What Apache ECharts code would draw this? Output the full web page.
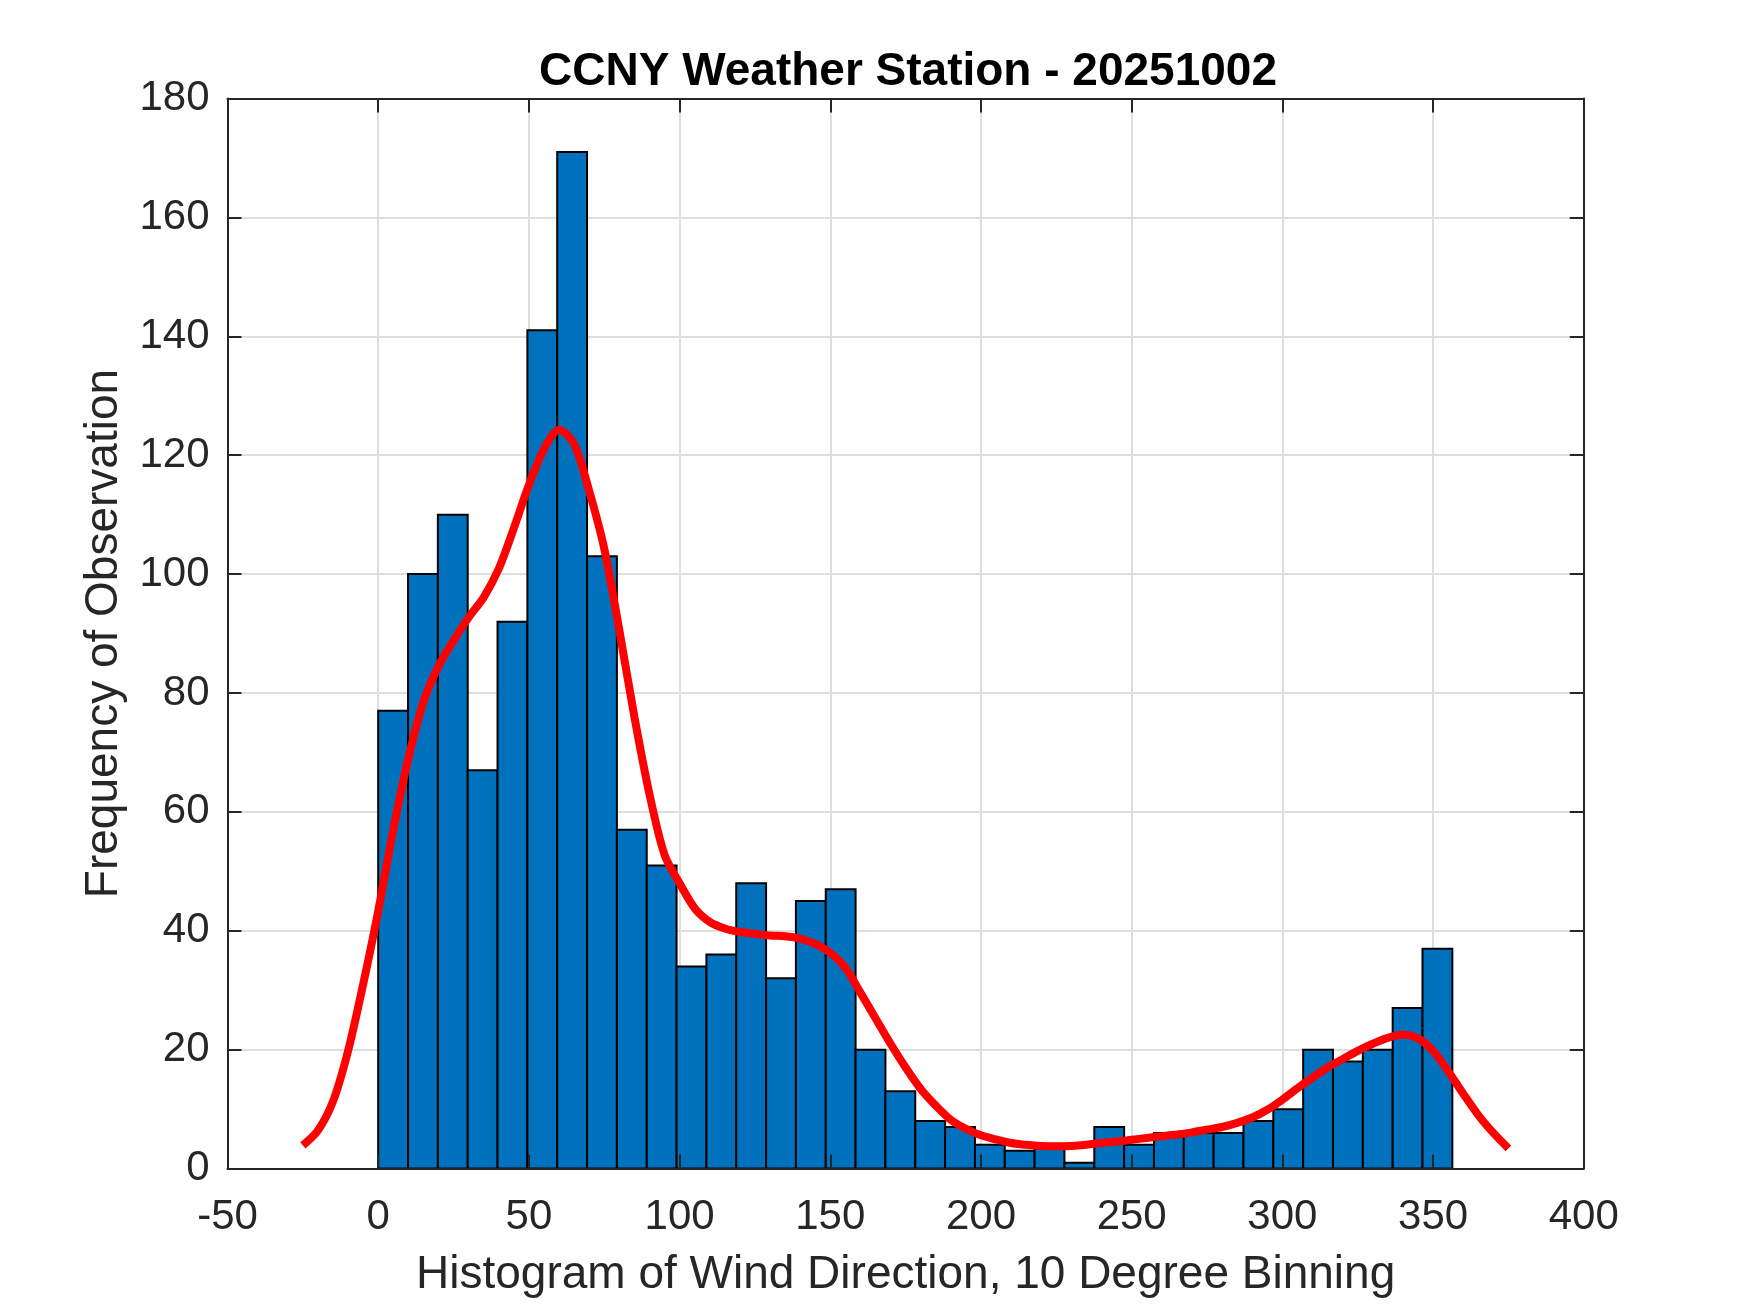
<!DOCTYPE html>
<html>
<head>
<meta charset="utf-8">
<title>CCNY Weather Station - 20251002</title>
<script src="https://cdn.jsdelivr.net/npm/echarts@6/dist/echarts.min.js"></script>
<style>
  html, body { margin: 0; padding: 0; background: #fff; }
  #main { width: 1750px; height: 1313px; }
</style>
</head>
<body>
<div id="main"></div>
<script>
// histogram: 36 bins from 0 up to the max observed direction (~356.5 deg)
var binWidth = 9.9;
var counts = [77, 100, 110, 67, 92, 141, 171, 103, 57, 51, 34, 36, 48, 32, 45, 47, 20, 13,
              8, 7, 4, 3, 4, 1, 7, 4, 6, 6, 6, 8, 10, 20, 18, 20, 27, 37];
var binStarts = counts.map(function (c, i) { return i * binWidth; });

// smoothed density curve (scaled to counts)
var curveX = [-25, -20, -15, -10, -5, 0, 5, 10, 15, 20, 25, 30, 35, 40, 45, 50, 55, 60, 65, 70,
              75, 80, 85, 90, 95, 100, 105, 110, 115, 120, 125, 130, 135, 140, 145, 150, 155, 160,
              165, 170, 175, 180, 185, 190, 195, 200, 205, 210, 215, 220, 225, 230, 235, 240, 245,
              250, 255, 260, 265, 270, 275, 280, 285, 290, 295, 300, 305, 310, 315, 320, 325, 330,
              335, 340, 345, 350, 355, 360, 365, 370, 375];
var curveY = [3.9, 6.4, 11.3, 19.8, 31.0, 43.3, 57.0, 69.0, 78.5, 84.5, 88.8, 92.7, 96.1, 100.9, 107.7,
              115.0, 121.0, 124.3, 121.9, 114.0, 104.3, 90.6, 76.0, 63.0, 52.8, 48.0, 43.8, 41.5, 40.4,
              39.8, 39.5, 39.2, 39.1, 38.7, 37.8, 36.3, 33.8, 29.6, 25.3, 21.0, 17.0, 13.4, 10.6, 8.2,
              6.7, 5.6, 4.9, 4.3, 4.0, 3.8, 3.75, 3.8, 4.0, 4.3, 4.55, 4.85, 5.15, 5.45, 5.75, 6.1,
              6.55, 7.0, 7.7, 8.6, 9.9, 11.6, 13.5, 15.3, 17.0, 18.4, 19.8, 21.0, 22.0, 22.5, 21.9,
              19.8, 16.4, 12.6, 9.0, 6.0, 3.4];

var xTicks = { min: -50, max: 400, interval: 50 };
var yTicks = { min: 0, max: 180, interval: 20 };

var FONT = 'Arial, "Liberation Sans", Helvetica, sans-serif';
var AX = '#262626';

var myChart = echarts.init(document.getElementById('main'));

function frameAxis(pos, withLabels, base) {
  return Object.assign({
    type: 'value',
    position: pos,
    z: 10,
    axisLine: { show: true, onZero: false, lineStyle: { color: AX, width: 2 } },
    axisTick: { show: true, inside: true, length: 14, lineStyle: { color: AX, width: 2 } },
    axisLabel: withLabels ? { show: true, color: AX, fontSize: 42, fontFamily: FONT } : { show: false },
    splitLine: { show: false }
  }, base);
}

function gridAxis(pos, base) {
  return Object.assign({
    type: 'value',
    position: pos,
    z: 0,
    axisLine: { show: false },
    axisTick: { show: false },
    axisLabel: { show: false },
    splitLine: { show: true, lineStyle: { color: '#dedede', width: 2 } }
  }, base);
}

var option = {
  animation: false,
  backgroundColor: '#fff',
  title: {
    text: 'CCNY Weather Station - 20251002',
    left: 903,
    textAlign: 'center',
    top: 44,
    textStyle: { fontSize: 46, fontWeight: 'bold', color: '#000', fontFamily: FONT }
  },
  grid: { left: 227.5, right: 166.25, top: 98.5, bottom: 144.4, containLabel: false },
  xAxis: [
    frameAxis('bottom', true, Object.assign({
      name: 'Histogram of Wind Direction, 10 Degree Binning',
      nameLocation: 'middle',
      nameGap: 84,
      nameTextStyle: { fontSize: 46, color: AX, fontFamily: FONT }
    }, xTicks, { axisLabel: { show: true, color: AX, fontSize: 42, fontFamily: FONT, margin: 28 } })),
    frameAxis('top', false, Object.assign({}, xTicks)),
    gridAxis('bottom', Object.assign({}, xTicks))
  ],
  yAxis: [
    frameAxis('left', true, Object.assign({
      name: 'Frequency of Observation',
      nameLocation: 'middle',
      nameGap: 100,
      nameTextStyle: { fontSize: 46, color: AX, fontFamily: FONT }
    }, yTicks, { axisLabel: { show: true, color: AX, fontSize: 42, fontFamily: FONT, margin: 18 } })),
    frameAxis('right', false, Object.assign({}, yTicks)),
    gridAxis('left', Object.assign({}, yTicks))
  ],
  series: [
    {
      type: 'custom',
      name: 'Wind Direction',
      xAxisIndex: 0,
      yAxisIndex: 0,
      z: 2,
      encode: { x: [0, 1], y: 2 },
      data: binStarts.map(function (s, i) { return [s, s + binWidth, counts[i]]; }),
      renderItem: function (params, api) {
        var p0 = api.coord([api.value(0), api.value(2)]);
        var p1 = api.coord([api.value(1), 0]);
        return {
          type: 'rect',
          shape: { x: p0[0], y: p0[1], width: p1[0] - p0[0], height: p1[1] - p0[1] },
          style: { fill: '#0072BD', stroke: '#000', lineWidth: 2 }
        };
      }
    },
    {
      type: 'line',
      name: 'Density',
      xAxisIndex: 0,
      yAxisIndex: 0,
      z: 5,
      smooth: 0.3,
      showSymbol: false,
      symbol: 'none',
      lineStyle: { color: '#ff0000', width: 8 },
      data: curveX.map(function (x, i) { return [x, curveY[i]]; })
    }
  ]
};

myChart.setOption(option);
window.onresize = function () {
  myChart.resize();
};
</script>
</body>
</html>
